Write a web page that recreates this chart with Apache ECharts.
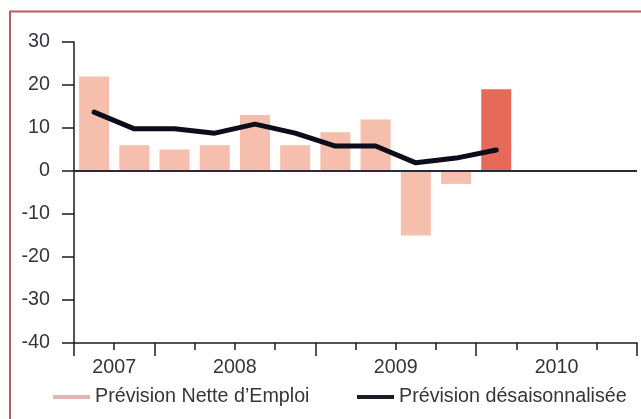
<!DOCTYPE html>
<html>
<head>
<meta charset="utf-8">
<script src="https://cdn.jsdelivr.net/npm/echarts@6/dist/echarts.min.js"></script>
<style>
  html, body { margin: 0; padding: 0; background: #fff; }
  #main { width: 641px; height: 419px; }
</style>
</head>
<body>
<div id="main"></div>
<script>
// trimestres, de 2007 T3 a 2010 T4
const quarters = [
  '2007 T3', '2007 T4',
  '2008 T1', '2008 T2', '2008 T3', '2008 T4',
  '2009 T1', '2009 T2', '2009 T3', '2009 T4',
  '2010 T1', '2010 T2', '2010 T3', '2010 T4'
];
const netForecast = [22, 6, 5, 6, 13, 6, 9, 12, -15, -3, 19, null, null, null];
const seasonalAdjusted = [13.7, 9.8, 9.8, 8.8, 10.9, 8.8, 5.8, 5.8, 1.9, 3.0, 4.9, null, null, null];
const currentQuarter = '2010 T1';
const yTicks = [-40, -30, -20, -10, 0, 10, 20, 30];

const font = "'Liberation Sans', Arial, sans-serif";
const textColor = '#34343f';
const axisColor = '#1a1a2a';
const fs = 19.7;

// debut et milieu de chaque annee sur l'axe
const years = [];
quarters.forEach(function (q, i) {
  const y = q.slice(0, 4);
  if (!years.length || years[years.length - 1].name !== y) {
    years.push({name: y, start: i, end: i + 1});
  } else {
    years[years.length - 1].end = i + 1;
  }
});
const yearStarts = years.map(y => y.start);
const yearMids = {};
years.forEach(y => { yearMids[(y.start + y.end) / 2] = y.name; });

const chart = echarts.init(document.getElementById('main'));

chart.setOption({
  animation: false,
  textStyle: {fontFamily: font},
  graphic: [{
    type: 'rect',
    shape: {x: 10, y: 11.5, width: 700, height: 500},
    style: {fill: 'none', stroke: '#bb5c5c', lineWidth: 2},
    silent: true
  }],
  grid: {left: 74, right: 4, top: 42, bottom: 76},
  legend: [{
    left: 53, top: 387, padding: 0,
    itemWidth: 37, itemHeight: 4,
    textStyle: {fontSize: fs, color: textColor, fontFamily: font},
    data: [{name: 'Prévision Nette d’Emploi', icon: 'rect', itemStyle: {color: '#e3b6b4'}}]
  }, {
    left: 357, top: 387, padding: 0,
    itemWidth: 37, itemHeight: 4,
    textStyle: {fontSize: fs, color: textColor, fontFamily: font},
    data: [{name: 'Prévision désaisonnalisée', icon: 'rect', itemStyle: {color: '#1c1c28'}}]
  }],
  xAxis: [{
    type: 'category',
    data: quarters,
    position: 'bottom',
    axisLine: {onZero: false, lineStyle: {color: axisColor, width: 1.5}},
    axisTick: {show: true, interval: 0, length: 7, lineStyle: {color: axisColor, width: 1.5}},
    axisLabel: {show: false}
  }, {
    type: 'category',
    data: quarters,
    position: 'bottom',
    axisLine: {show: false, onZero: false},
    axisTick: {
      show: true,
      interval: function (idx) { return yearStarts.indexOf(idx) >= 0; },
      length: 13,
      lineStyle: {color: axisColor, width: 1.5}
    },
    axisLabel: {show: false}
  }, {
    type: 'value',
    min: 0,
    max: quarters.length,
    interval: 1,
    position: 'bottom',
    axisLine: {show: false, onZero: false},
    axisTick: {show: false},
    splitLine: {show: false},
    axisLabel: {
      margin: 15,
      fontSize: fs,
      color: textColor,
      fontFamily: font,
      formatter: function (v) { return yearMids[v] || ''; }
    }
  }],
  yAxis: {
    type: 'value',
    min: yTicks[0],
    max: yTicks[yTicks.length - 1],
    interval: 10,
    axisLine: {show: true, lineStyle: {color: axisColor, width: 1.5}},
    axisTick: {show: true, length: 12, lineStyle: {color: axisColor, width: 1.5}},
    splitLine: {show: false},
    axisLabel: {margin: 24, fontSize: fs, color: textColor, fontFamily: font}
  },
  series: [{
    name: 'Prévision Nette d’Emploi',
    type: 'bar',
    xAxisIndex: 0,
    barWidth: 30,
    data: netForecast.map(function (v, i) {
      return {
        value: v,
        itemStyle: {color: quarters[i] === currentQuarter ? '#e66a5a' : '#f5bead'}
      };
    }),
    markLine: {
      silent: true,
      symbol: 'none',
      label: {show: false},
      lineStyle: {color: '#2a2a3a', width: 2, type: 'solid'},
      data: [{yAxis: 0}]
    }
  }, {
    name: 'Prévision désaisonnalisée',
    type: 'line',
    xAxisIndex: 0,
    data: seasonalAdjusted,
    showSymbol: false,
    symbol: 'none',
    lineStyle: {color: '#0c0c1a', width: 5, cap: 'round', join: 'round'},
    itemStyle: {color: '#0c0c1a'},
    z: 5
  }]
});
</script>
</body>
</html>
